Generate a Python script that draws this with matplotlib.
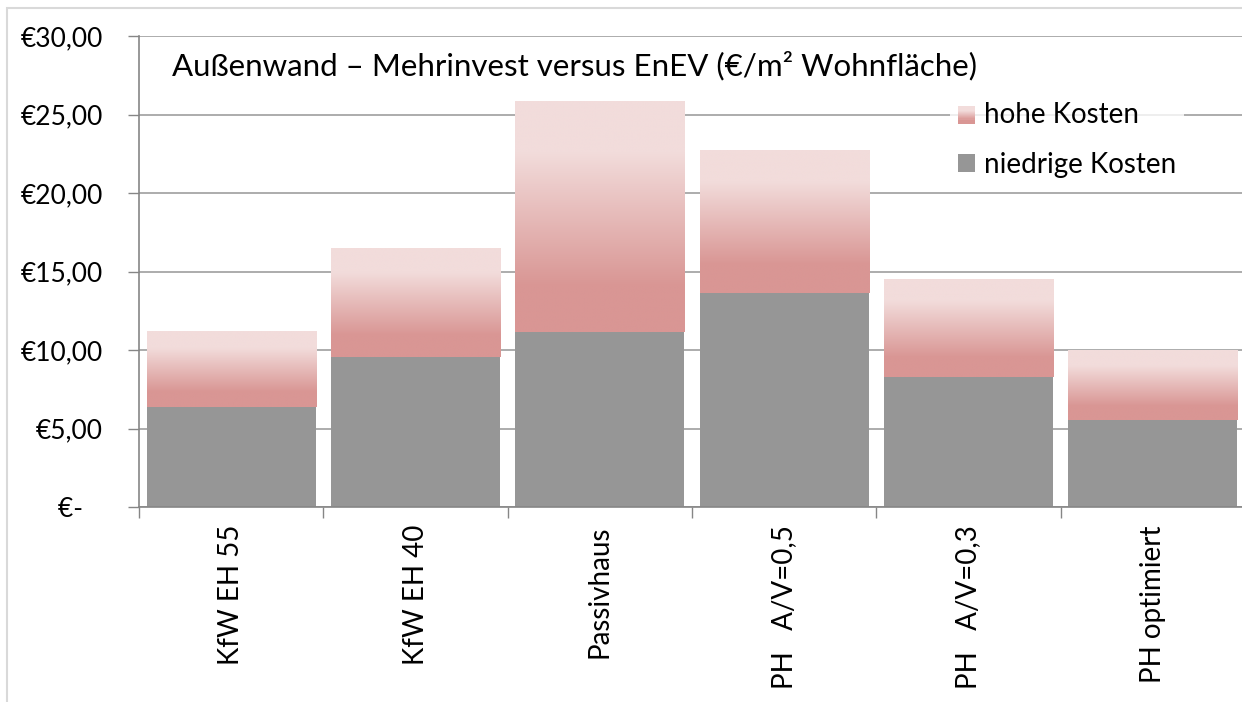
import numpy as np
import matplotlib.pyplot as plt
from matplotlib.colors import LinearSegmentedColormap
from matplotlib.patches import Rectangle
from matplotlib.legend_handler import HandlerBase
from matplotlib.ticker import FuncFormatter

plt.rcParams['font.family'] = ['Lato', 'DejaVu Sans']

# Daten
kategorien = ['KfW EH 55', 'KfW EH 40', 'Passivhaus',
              'PH   A/V=0,5', 'PH   A/V=0,3', 'PH optimiert']
niedrige_kosten = [6.37, 9.55, 11.15, 13.63, 8.28, 5.54]
hohe_kosten = [11.21, 16.43, 25.80, 22.68, 14.46, 9.94]
y_ticks = [0, 5, 10, 15, 20, 25, 30]

GRAU = '#969696'
HELL = '#f2dcdb'
DUNKEL = '#d99694'
grad = LinearSegmentedColormap.from_list(
    'rosa', [(0, DUNKEL), (0.2, DUNKEL), (0.78, HELL), (1, HELL)])


class GradientHandler(HandlerBase):
    def create_artists(self, legend, orig, xd, yd, w, h, fs, trans):
        n = 16
        out = []
        for i in range(n):
            out.append(Rectangle((xd, yd + h * i / n), w, h / n * 1.05,
                                 facecolor=grad(i / (n - 1)),
                                 edgecolor='none', transform=trans))
        return out


fig = plt.figure(figsize=(12.42, 7.02), dpi=100)
ax = fig.add_axes([139 / 1242, 195 / 702, 1106 / 1242, 471 / 702])

x = np.arange(len(kategorien))
breite = 0.917

# untere Kosten
ax.bar(x, niedrige_kosten, width=breite, color=GRAU, zorder=2,
       label='niedrige Kosten')

# obere Kosten als Farbverlauf
verlauf = np.linspace(0, 1, 256).reshape(-1, 1)
for xi, lo, hi in zip(x, niedrige_kosten, hohe_kosten):
    ax.imshow(verlauf, cmap=grad, origin='lower', aspect='auto',
              extent=(xi - breite / 2, xi + breite / 2, lo, hi),
              interpolation='bilinear', zorder=2)

ax.set_xlim(-0.5, len(kategorien) - 0.5)
ax.set_ylim(0, 30)
ax.set_yticks(y_ticks)
ax.yaxis.set_major_formatter(FuncFormatter(
    lambda v, p: '€-   ' if v == 0 else f'€{v:.2f}'.replace('.', ',')))
ax.set_xticks(x)
ax.set_xticklabels(kategorien, rotation=90, va='top', ha='center')
ax.set_xticks(np.arange(len(kategorien) + 1) - 0.5, minor=True)

ax.tick_params(axis='y', length=8, width=1, color='#868686',
               labelsize=19, pad=18)
ax.tick_params(axis='x', which='major', length=0, labelsize=20, pad=13)
ax.tick_params(axis='x', which='minor', length=8, width=1, color='#868686')

ax.grid(axis='y', color='#a6a6a6', linewidth=1.3)
ax.set_axisbelow(True)
for s in ['top', 'right']:
    ax.spines[s].set_visible(False)
for s in ['left', 'bottom']:
    ax.spines[s].set_color('#868686')
    ax.spines[s].set_linewidth(1.2)

ax.text(0.03, 0.938, 'Außenwand – Mehrinvest versus EnEV (€/m² Wohnfläche)',
        transform=ax.transAxes, fontsize=22.5, va='center', ha='left')

hoch_handle = Rectangle((0, 0), 1, 1)
grau_handle = Rectangle((0, 0), 1, 1, facecolor=GRAU, edgecolor='none')
leg = fig.legend([hoch_handle, grau_handle], ['hohe Kosten', 'niedrige Kosten'],
                 handler_map={hoch_handle: GradientHandler()},
                 loc='upper left', bbox_to_anchor=(936 / 1242, 1 - 80 / 702),
                 fontsize=20, frameon=True, framealpha=0.8,
                 handlelength=0.62, handleheight=0.62, handletextpad=0.3,
                 labelspacing=0.85, borderpad=0.3)
leg.get_frame().set_edgecolor('none')

# Rahmen des Diagramms
fig.patches.append(Rectangle((7 / 1242, -0.05), 1.2, 1.05 - 8 / 702,
                             transform=fig.transFigure, fill=False,
                             edgecolor='#d9d9d9', linewidth=1.5))

fig.savefig('out.png', dpi=100)
